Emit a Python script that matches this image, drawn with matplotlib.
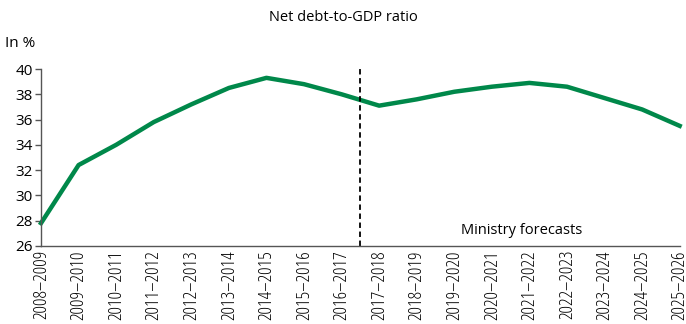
import matplotlib
matplotlib.use("Agg")
import matplotlib.pyplot as plt

years = ["2008–2009", "2009–2010", "2010–2011", "2011–2012", "2012–2013", "2013–2014",
         "2014–2015", "2015–2016", "2016–2017", "2017–2018", "2018–2019", "2019–2020",
         "2020–2021", "2021–2022", "2022–2023", "2023–2024", "2024–2025", "2025–2026"]
ratio = [27.8, 32.4, 34.0, 35.8, 37.2, 38.5, 39.3, 38.8, 38.0, 37.1, 37.6, 38.2,
         38.6, 38.9, 38.6, 37.7, 36.8, 35.5]
forecast_start = 8.5

plt.rcParams['font.family'] = ['Open Sans', 'DejaVu Sans']

fig = plt.figure(figsize=(6.86, 3.24), dpi=100)
ax = fig.add_axes([0.0598, 0.241, 0.931, 0.546])

x = list(range(len(years)))
ax.plot(x, ratio, color='#00884a', lw=3.2, solid_joinstyle='round', clip_on=False)
ax.plot([forecast_start, forecast_start], [26, 40.25], color='black', lw=1.3,
        ls=(0, (3, 2)), clip_on=False)

ax.set_xlim(0, len(years) - 1)
ax.set_ylim(26, 40)
ax.set_yticks(range(26, 41, 2))
ax.set_xticks(x)
ax.set_xticklabels(years, rotation=90, fontsize=13.5, fontstretch='condensed')
ax.tick_params(axis='x', length=0, pad=3)
ax.tick_params(axis='y', length=4, width=1, labelsize=11, pad=2, color='#555555')
for s in ['top', 'right']:
    ax.spines[s].set_visible(False)
for s in ['left', 'bottom']:
    ax.spines[s].set_color('#555555')
    ax.spines[s].set_linewidth(1)

fig.text(0.5, 0.947, "Net debt-to-GDP ratio", ha='center', va='center', fontsize=10.5)
fig.text(0.008, 0.867, "In %", ha='left', va='center', fontsize=11)
ax.text(12.8, 27.2, "Ministry forecasts", ha='center', va='center', fontsize=10.5)

fig.savefig("out.png", dpi=100)
